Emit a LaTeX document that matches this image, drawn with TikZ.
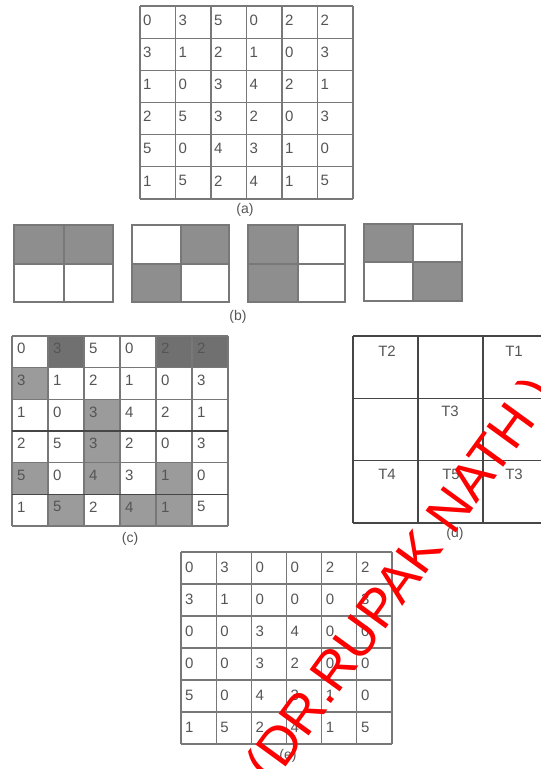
\documentclass[tikz,border=0pt]{standalone}
\usepackage{fontspec}
\setmainfont{Liberation Sans}
\definecolor{numgray}{RGB}{85,85,85}
\definecolor{linegray}{RGB}{120,120,120}
\definecolor{darkline}{RGB}{70,70,70}
\definecolor{boxgray}{RGB}{142,142,142}
\definecolor{cdark}{RGB}{112,112,112}
\definecolor{clight}{RGB}{155,155,155}
\definecolor{wmred}{RGB}{255,0,0}
\begin{document}
\begin{tikzpicture}[x=1pt,y=-1pt,
  cellnum/.style={anchor=west,inner sep=0pt,text=numgray,font=\fontsize{15}{15}\selectfont},
  tlabel/.style={inner sep=0pt,text=numgray,font=\fontsize{15}{15}\selectfont},
  caption/.style={inner sep=0pt,text=numgray,font=\fontsize{14}{14}\selectfont},
  gl/.style={draw=linegray,line width=1.1pt},
  dl/.style={draw=darkline,line width=1.1pt},
  watermark/.style={inner sep=0pt,text=wmred,font=\fontsize{54}{54}\selectfont,rotate=54}]
\useasboundingbox (0,0) rectangle (541,769);
\clip (0,0) rectangle (541,769);
\fill[white] (0,0) rectangle (541,769);

% ---------- (a) ----------
\foreach \row [count=\j from 0] in {{0,3,5,0,2,2},{3,1,2,1,0,3},{1,0,3,4,2,1},{2,5,3,2,0,3},{5,0,4,3,1,0},{1,5,2,4,1,5}}{
  \foreach \v [count=\i from 0] in \row {
    \node[cellnum] (a-\j-\i) at (140+\i*35.5+3, 6+\j*32.17+14) {\v};
  }
}
\foreach \i in {0,...,6} \draw[gl] (140+\i*35.5,6) -- (140+\i*35.5,199);
\foreach \j in {0,...,6} \draw[gl] (140,6+\j*32.17) -- (353,6+\j*32.17);
\node[caption] (capa) at (245,210) {(a)};

% ---------- (b) ----------
\fill[boxgray] (14,225) rectangle (113,264);
\fill[boxgray] (181,225) rectangle (229,264);
\fill[boxgray] (132,264) rectangle (181,302);
\fill[boxgray] (248,225) rectangle (298,302);
\fill[boxgray] (364,224) rectangle (413,262);
\fill[boxgray] (413,262) rectangle (462,301);
\foreach \x/\m/\r/\t/\mm/\b in {14/64/113/225/264/302,132/181/229/225/264/302,248/298/345/225/264/302,364/413/462/224/262/301}{
  \draw[gl] (\x,\t) rectangle (\r,\b);
  \draw[gl] (\m,\t) -- (\m,\b);
  \draw[gl] (\x,\mm) -- (\r,\mm);
}
\node[caption] (capb) at (238,317) {(b)};

% ---------- (c) ----------
\foreach \j/\i in {0/1,0/4,0/5}
  \fill[cdark] (12+\i*36,336+\j*31.67) rectangle ++(36,31.67);
\foreach \j/\i in {1/0,2/2,3/2,4/0,4/2,4/4,5/1,5/3,5/4}
  \fill[clight] (12+\i*36,336+\j*31.67) rectangle ++(36,31.67);
\foreach \row [count=\j from 0] in {{0,3,5,0,2,2},{3,1,2,1,0,3},{1,0,3,4,2,1},{2,5,3,2,0,3},{5,0,4,3,1,0},{1,5,2,4,1,5}}{
  \foreach \v [count=\i from 0] in \row {
    \node[cellnum] (c-\j-\i) at (12+\i*36+5, 336+\j*31.67+12.5) {\v};
  }
}
\foreach \i in {0,...,6} \draw[gl] (12+\i*36,336) -- (12+\i*36,526);
\foreach \j in {0,1,2,4,6} \draw[gl] (12,336+\j*31.67) -- (228,336+\j*31.67);
\foreach \j in {3,5} \draw[dl] (12,336+\j*31.67) -- (228,336+\j*31.67);
\node[caption] (capc) at (130,539) {(c)};

% ---------- (d) ----------
\foreach \i in {0,...,3} \draw[dl] (353+\i*65,336) -- (353+\i*65,523);
\foreach \j in {0,...,3} \draw[dl] (353,336+\j*62.33) -- (548,336+\j*62.33);
\node[tlabel] (d-T2) at (387,351) {T2};
\node[tlabel] (d-T1) at (514,351) {T1};
\node[tlabel] (d-T3a) at (450,411) {T3};
\node[tlabel] (d-T4) at (387,474) {T4};
\node[tlabel] (d-T5) at (451,474) {T5};
\node[tlabel] (d-T3b) at (514,474) {T3};
\node[caption] (capd) at (455,534) {(d)};

% ---------- (e) ----------
\foreach \row [count=\j from 0] in {{0,3,0,0,2,2},{3,1,0,0,0,3},{0,0,3,4,0,0},{0,0,3,2,0,0},{5,0,4,3,1,0},{1,5,2,4,1,5}}{
  \foreach \v [count=\i from 0] in \row {
    \node[cellnum] (e-\j-\i) at (181+\i*35.17+4, 552+\j*32+15) {\v};
  }
}
\foreach \i in {0,...,6} \draw[gl] (181+\i*35.17,552) -- (181+\i*35.17,744);
\foreach \j in {0,...,6} \draw[gl] (181,552+\j*32) -- (392,552+\j*32);
\node[caption] (cape) at (288,756) {(e)};

% ---------- watermark ----------
\node[watermark,anchor=base west] (wm) at (283,771) {DR.RUPAK NATH )};
\node[watermark,anchor=base east] (wmopen) at (283,771) {(\hspace{0.278em}};
\end{tikzpicture}
\end{document}
